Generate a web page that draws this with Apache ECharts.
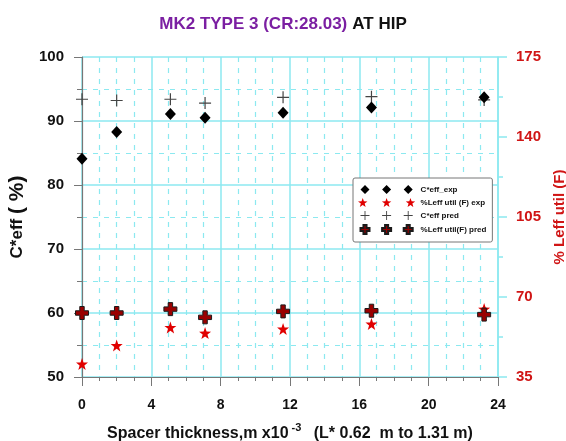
<!DOCTYPE html>
<html>
<head>
<meta charset="utf-8">
<script src="https://cdn.jsdelivr.net/npm/echarts@6/dist/echarts.min.js"></script>
<style>
  html, body { margin: 0; padding: 0; background: #fff; }
  #chart { width: 566px; height: 441px; }
</style>
</head>
<body>
<div id="chart"></div>
<script>
// spacer thickness (x10^-3 m)
const spacer = [0, 2, 5.1, 7.1, 11.6, 16.7, 23.2];
// C*eff [%], left axis
const ceffExp = [84.1, 88.3, 91.1, 90.5, 91.3, 92.1, 93.7];
const ceffPred = [93.4, 93.2, 93.4, 92.8, 93.7, 93.8, 93.3];
// % Leff util (F), right axis
const leffExp = [40.7, 48.8, 56.7, 54.2, 56.0, 58.2, 64.7];
const leffPred = [63.0, 63.0, 64.7, 61.1, 63.7, 64.0, 62.3];

const seriesNames = ['C*eff_exp', '%Leff util (F) exp', 'C*eff pred', '%Leff util(F) pred'];
const leftTicks = [50, 100, 10];
const rightTicks = [35, 175, 35];
const xTicks = [0, 24, 4];

const CYAN = '#8ce9f0';
const RED = '#d01515';

// marker outlines, drawn in a 10x10 box
const diamondPts = [[0, 5], [5, 0], [10, 5], [5, 10]];
const starPts = [[5, 0.3], [6.18, 3.68], [9.76, 3.75], [6.9, 5.92], [7.94, 9.35],
                 [5, 7.3], [2.06, 9.35], [3.1, 5.92], [0.24, 3.75], [3.82, 3.68]];
const thinPlusPts = [[4.5, 0], [5.5, 0], [5.5, 4.5], [10, 4.5], [10, 5.5], [5.5, 5.5],
                     [5.5, 10], [4.5, 10], [4.5, 5.5], [0, 5.5], [0, 4.5], [4.5, 4.5]];
const thickPlusPts = [[3.3, 0], [6.7, 0], [6.7, 3.3], [10, 3.3], [10, 6.7], [6.7, 6.7],
                      [6.7, 10], [3.3, 10], [3.3, 6.7], [0, 6.7], [0, 3.3], [3.3, 3.3]];

const shapePath = (pts, dx) => 'M' + pts.map(p => (p[0] + dx) + ' ' + p[1]).join(' L') + ' Z';
const single = pts => 'path://' + shapePath(pts, 0);
// legend sample: three copies side by side
const triple = pts => 'path://' + [0, 24, 48].map(dx => shapePath(pts, dx)).join(' ');

const pairs = ys => spacer.map((x, i) => [x, ys[i]]);

const chart = echarts.init(document.getElementById('chart'));

chart.setOption({
    animation: false,
    textStyle: { fontFamily: 'Liberation Sans, Arial, sans-serif' },
    title: {
        text: '{p|MK2 TYPE 3 (CR:28.03)} {k|AT HIP}',
        left: 'center',
        top: 10,
        textStyle: {
            rich: {
                p: { color: '#7b1fa2', fontSize: 17, fontWeight: 'bold' },
                k: { color: '#111', fontSize: 17, fontWeight: 'bold' }
            }
        }
    },
    grid: { left: 82, right: 68, top: 57, bottom: 64, containLabel: false, outerBoundsMode: 'none' },
    legend: {
        orient: 'vertical',
        left: 353,
        top: 178,
        padding: [7, 6, 7, 5],
        itemGap: 4,
        itemWidth: 58,
        itemHeight: 9,
        backgroundColor: '#fff',
        borderColor: '#777',
        borderWidth: 1,
        borderRadius: 2,
        textStyle: { fontSize: 8, fontWeight: 'bold', color: '#111' },
        data: [
            { name: seriesNames[0], icon: triple(diamondPts) },
            { name: seriesNames[1], icon: triple(starPts) },
            { name: seriesNames[2], icon: triple(thinPlusPts) },
            { name: seriesNames[3], icon: triple(thickPlusPts) }
        ]
    },
    xAxis: {
        type: 'value',
        min: xTicks[0],
        max: xTicks[1],
        interval: xTicks[2],
        name: '{a|Spacer thickness,m x10}{s|-3}{a| (L* 0.62  m to 1.31 m)}',
        nameLocation: 'middle',
        nameGap: 45,
        nameTextStyle: {
            rich: {
                a: { fontSize: 16, color: '#111', fontWeight: 'bold' },
                s: { fontSize: 11, color: '#111', fontWeight: 'bold', verticalAlign: 'top', padding: [0, 8, 12, 3] }
            }
        },
        axisLine: { onZero: false, lineStyle: { color: '#777', width: 1.2 } },
        axisTick: { length: 9, lineStyle: { color: '#777' } },
        minorTick: { show: true, splitNumber: 4, length: 4, lineStyle: { color: '#777' } },
        splitLine: { show: true, lineStyle: { color: CYAN, width: 1.5 } },
        minorSplitLine: { show: true, lineStyle: { color: CYAN, width: 1.2, type: [5, 6] } },
        axisLabel: { color: '#111', fontSize: 14, fontWeight: 'bold', margin: 21 }
    },
    yAxis: [
        {
            type: 'value',
            position: 'left',
            min: leftTicks[0],
            max: leftTicks[1],
            interval: leftTicks[2],
            name: '{a|C*eff }{b|( %)}',
            nameLocation: 'middle',
            nameRotate: 90,
            nameGap: 52,
            nameTextStyle: {
                rich: {
                    a: { fontSize: 17, color: '#111', fontWeight: 'bold' },
                    b: { fontSize: 21, color: '#111', fontWeight: 'bold' }
                }
            },
            axisLine: { show: true, lineStyle: { color: '#777', width: 1.2 } },
            axisTick: { show: true, length: 8, lineStyle: { color: '#777' } },
            minorTick: { show: true, splitNumber: 2, length: 5, lineStyle: { color: '#777' } },
            splitLine: { show: true, lineStyle: { color: CYAN, width: 1.5 } },
            minorSplitLine: { show: true, lineStyle: { color: CYAN, width: 1.2, type: [5, 6] } },
            axisLabel: { color: '#111', fontSize: 15, fontWeight: 'bold', margin: 18 }
        },
        {
            type: 'value',
            position: 'right',
            min: rightTicks[0],
            max: rightTicks[1],
            interval: rightTicks[2],
            name: '% Leff util (F)',
            nameLocation: 'middle',
            nameRotate: 90,
            nameGap: 50,
            nameTextStyle: { fontSize: 15, color: RED, fontWeight: 'bold' },
            axisLine: { show: true, lineStyle: { color: CYAN, width: 1.5 } },
            axisTick: { show: true, length: 9, lineStyle: { color: CYAN, width: 1.5 } },
            minorTick: { show: true, splitNumber: 2, length: 5, lineStyle: { color: CYAN, width: 1.5 } },
            splitLine: { show: false },
            axisLabel: { color: RED, fontSize: 15, fontWeight: 'bold', margin: 18 }
        }
    ],
    series: [
        {
            name: seriesNames[2],
            type: 'scatter',
            yAxisIndex: 0,
            symbol: single(thinPlusPts),
            symbolSize: 12,
            itemStyle: { color: '#444', opacity: 1 },
            data: pairs(ceffPred),
            z: 3
        },
        {
            name: seriesNames[0],
            type: 'scatter',
            yAxisIndex: 0,
            symbol: single(diamondPts),
            symbolSize: [11, 12],
            itemStyle: { color: '#000', opacity: 1 },
            data: pairs(ceffExp),
            z: 4
        },
        {
            name: seriesNames[1],
            type: 'scatter',
            yAxisIndex: 1,
            symbol: single(starPts),
            symbolSize: 12,
            itemStyle: { color: '#e00000', opacity: 1 },
            data: pairs(leffExp),
            z: 3
        },
        {
            name: seriesNames[3],
            type: 'scatter',
            yAxisIndex: 1,
            symbol: single(thickPlusPts),
            symbolSize: 13,
            itemStyle: { color: '#9a0000', borderColor: '#1a1a1a', borderWidth: 1, opacity: 1 },
            data: pairs(leffPred),
            z: 4
        }
    ]
});
</script>
</body>
</html>
